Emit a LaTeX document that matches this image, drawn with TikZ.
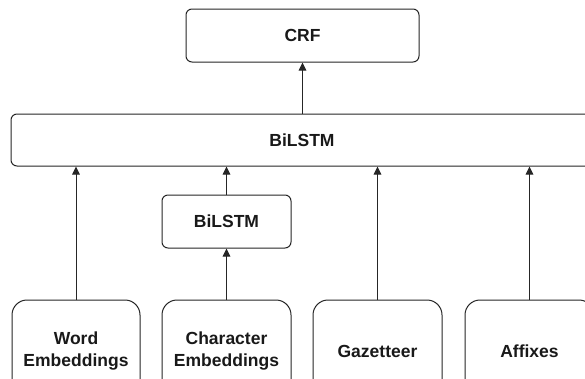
\documentclass[tikz,border=0pt]{standalone}
\usepackage{fontspec}
\setmainfont{Liberation Sans}
\usetikzlibrary{arrows.meta}
\begin{document}
\begin{tikzpicture}[x=1pt,y=-1pt,
  box/.style={draw=black!85, line width=1pt, rounded corners=6pt, align=center,
    font=\fontsize{17.5}{22}\selectfont\bfseries, text=black!90, inner sep=0pt},
  bigbox/.style={box, rounded corners=15pt},
  arr/.style={draw=black!85, line width=1pt, -{Triangle[length=8pt,width=7.5pt]}}]
\clip (0,0) rectangle (585,378);
\fill[white] (0,0) rectangle (585,378);
\node[box, minimum width=233pt, minimum height=53pt] (crf) at (302.5,35.5) {CRF};
\node[box, minimum width=582pt, minimum height=52pt] (bilstm) at (302,140) {BiLSTM};
\node[box, minimum width=129pt, minimum height=53pt] (small) at (226.5,221.5) {BiLSTM};
\node[bigbox, minimum width=128pt, minimum height=102pt] (word) at (76,351) {Word\\Embeddings};
\node[bigbox, minimum width=129pt, minimum height=102pt] (char) at (226.5,351) {Character\\Embeddings};
\node[bigbox, minimum width=129pt, minimum height=102pt] (gaz) at (377.5,351) {Gazetteer};
\node[bigbox, minimum width=129pt, minimum height=102pt] (aff) at (529.5,351) {Affixes};
\draw[arr] (bilstm.north -| crf.south) -- (crf.south);
\draw[arr] (word.north) -- (word.north |- bilstm.south);
\draw[arr] (char.north) -- (small.south);
\draw[arr] (small.north) -- (small.north |- bilstm.south);
\draw[arr] (gaz.north) -- (gaz.north |- bilstm.south);
\draw[arr] (aff.north) -- (aff.north |- bilstm.south);
\end{tikzpicture}
\end{document}
